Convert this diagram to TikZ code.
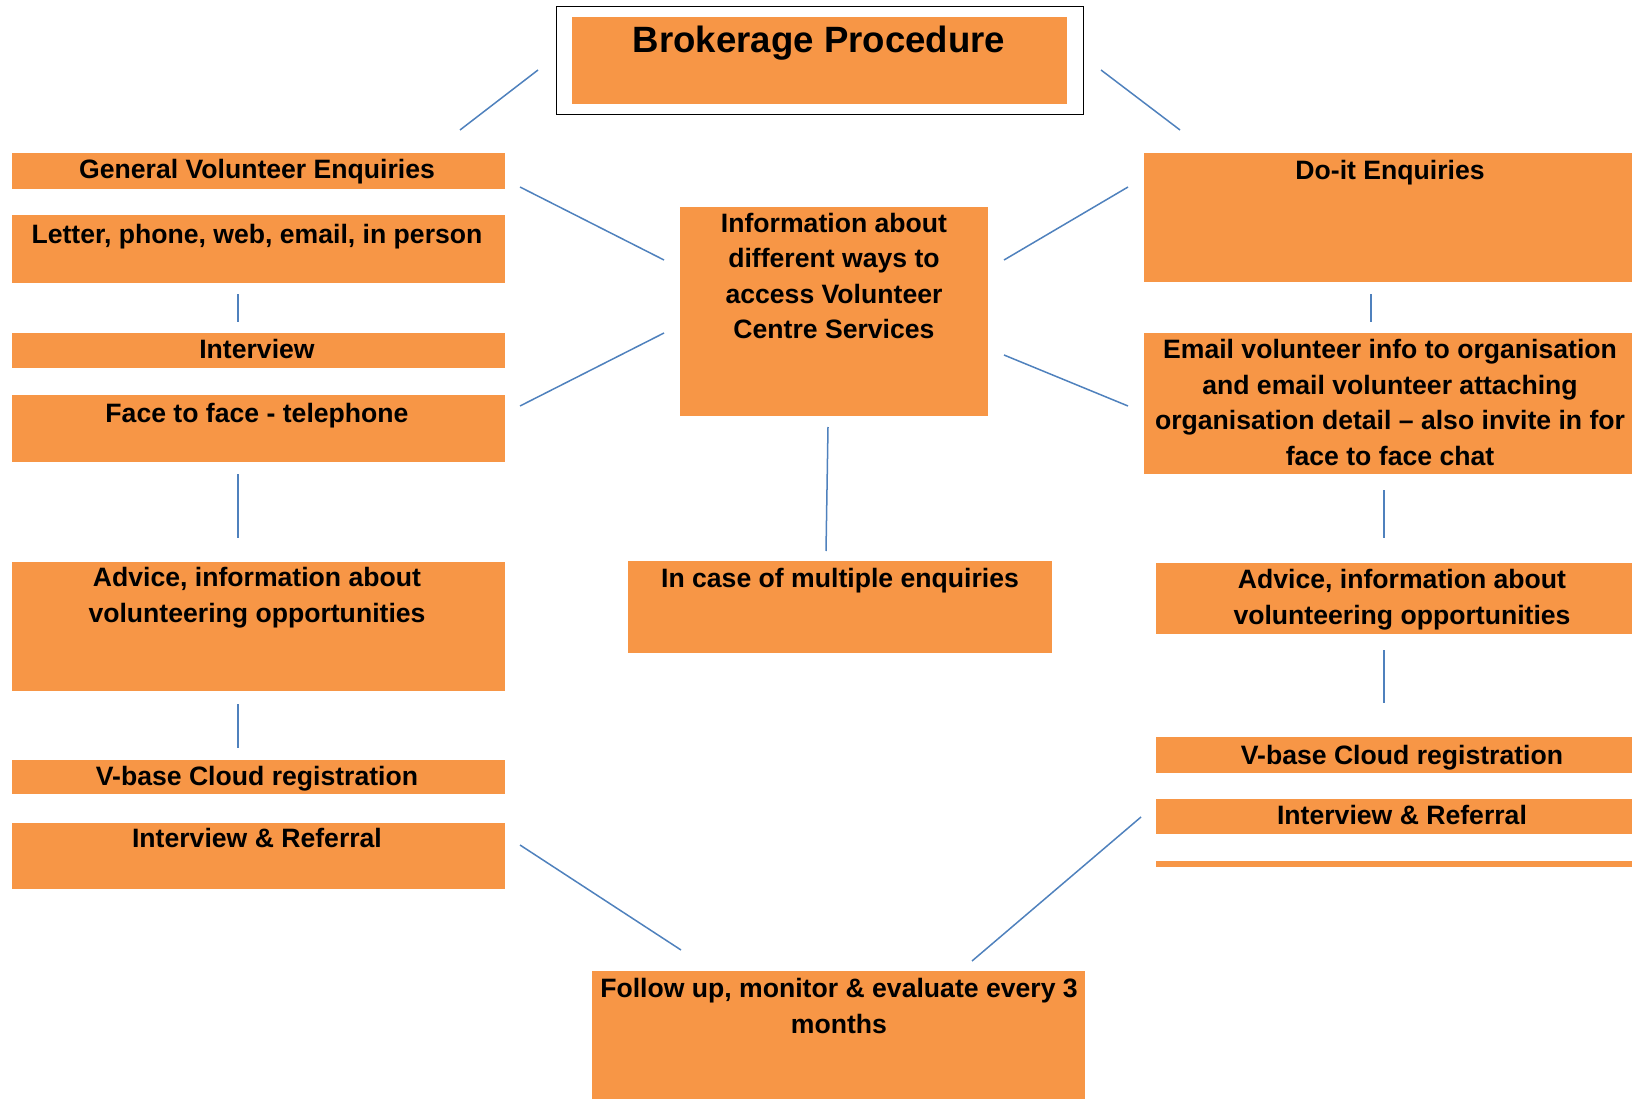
\documentclass[tikz,border=0pt]{standalone}
\usepackage{fontspec}
\setmainfont{Liberation Sans}
\definecolor{boxorange}{HTML}{F79646}
\definecolor{lineblue}{HTML}{4F81BD}
\newcommand\obox[5]{\node[box, minimum width={#4-#2}, minimum height={#5-#3}] (#1) at (#2,#3) {};}
\newcommand\otext[4]{\node[txt] (#1) at (#2,#3+1.5) {\begin{tabular}[t]{@{}c@{}}#4\end{tabular}};}
\begin{document}
\begin{tikzpicture}[x=1pt,y=-1pt,
  box/.style={fill=boxorange, draw=none, inner sep=0pt, outer sep=0pt, anchor=north west},
  frame/.style={draw=black, line width=1pt, fill=none, inner sep=0pt, outer sep=0pt, anchor=north west},
  txt/.style={anchor=base, inner sep=0pt, font=\fontsize{26.6}{35.5}\selectfont\bfseries},
  conn/.style={draw=lineblue, line width=1.5pt}]
\useasboundingbox (0,0) rectangle (1632,1099);
% title
\node[frame, minimum width=527, minimum height=108] (titleframe) at (556,7) {};
\obox{title}{572}{17}{1067}{104}
\node[txt, font=\fontsize{36.6}{42}\selectfont\bfseries] (titlet) at (819,53) {Brokerage Procedure};
% left column
\obox{gve}{12}{153}{505}{189}
\obox{letter}{12}{215}{505}{283}
\obox{intl}{12}{333}{505}{368}
\obox{face}{12}{395}{505}{462}
\obox{advl}{12}{562}{505}{691}
\obox{vbl}{12}{760}{505}{794}
\obox{irl}{12}{823}{505}{889}
\otext{gvet}{257}{177}{General Volunteer Enquiries}
\otext{lettert}{257}{242}{Letter, phone, web, email, in person}
\otext{intlt}{257}{357}{Interview}
\otext{facet}{257}{421}{Face to face - telephone}
\otext{advlt}{257}{585}{Advice, information about\\volunteering opportunities}
\otext{vblt}{257}{784}{V-base Cloud registration}
\otext{irlt}{257}{846}{Interview \& Referral}
% centre column
\obox{info}{680}{207}{988}{416}
\obox{incase}{628}{561}{1052}{653}
\obox{follow}{592}{971}{1085}{1099}
\otext{infot}{834}{231}{Information about\\different ways to\\access Volunteer\\Centre Services}
\otext{incaset}{840}{586}{In case of multiple enquiries}
\otext{followt}{839}{996}{Follow up, monitor \& evaluate every 3\\months}
% right column
\obox{doit}{1144}{153}{1632}{282}
\obox{email}{1144}{333}{1632}{474}
\obox{advr}{1156}{563}{1632}{634}
\obox{vbr}{1156}{737}{1632}{773}
\obox{irr}{1156}{799}{1632}{834}
\obox{bar}{1156}{861}{1632}{867}
\otext{doitt}{1390}{178}{Do-it Enquiries}
\otext{emailt}{1390}{357}{Email volunteer info to organisation\\and email volunteer attaching\\organisation detail -- also invite in for\\face to face chat}
\otext{advrt}{1402}{587}{Advice, information about\\volunteering opportunities}
\otext{vbrt}{1402}{763}{V-base Cloud registration}
\otext{irrt}{1402}{823}{Interview \& Referral}
% connector end points
\coordinate (a1) at (460,130); \coordinate (a2) at (538,70);
\coordinate (b1) at (1101,70); \coordinate (b2) at (1180,130);
\coordinate (c1) at (520,187); \coordinate (c2) at (664,260);
\coordinate (d1) at (520,406); \coordinate (d2) at (664,333);
\coordinate (e1) at (1004,260); \coordinate (e2) at (1128,187);
\coordinate (f1) at (1004,355); \coordinate (f2) at (1128,406);
\coordinate (g1) at (238,294); \coordinate (g2) at (238,322);
\coordinate (h1) at (238,474); \coordinate (h2) at (238,538);
\coordinate (i1) at (238,704); \coordinate (i2) at (238,748);
\coordinate (j1) at (828,427); \coordinate (j2) at (826,551);
\coordinate (k1) at (1371,294); \coordinate (k2) at (1371,322);
\coordinate (l1) at (1384,490); \coordinate (l2) at (1384,538);
\coordinate (m1) at (1384,650); \coordinate (m2) at (1384,703);
\coordinate (n1) at (520,845); \coordinate (n2) at (681,950);
\coordinate (o1) at (1141,817); \coordinate (o2) at (972,961);
\foreach \p in {a,b,c,d,e,f,g,h,i,j,k,l,m,n,o} \draw[conn] (\p1) -- (\p2);
\end{tikzpicture}
\end{document}
